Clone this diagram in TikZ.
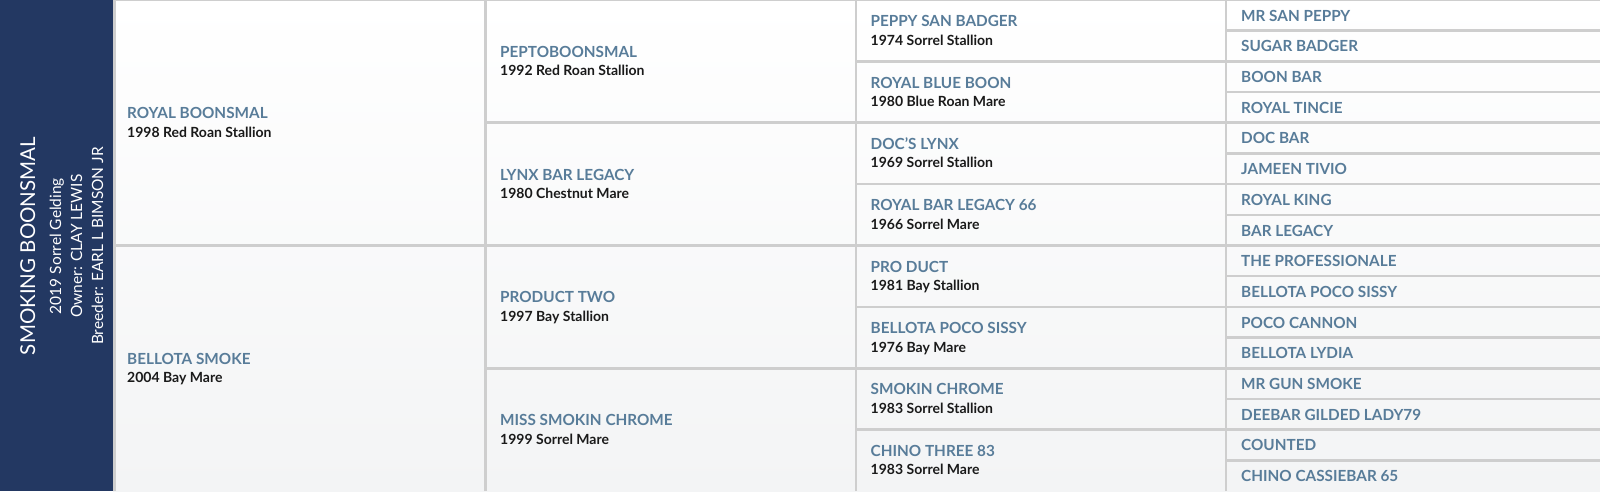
\documentclass[tikz,border=0pt]{standalone}
\usepackage{fontspec}
\setmainfont{Lato}
\usetikzlibrary{positioning}

\definecolor{barblue}{RGB}{35,56,98}
\definecolor{namecol}{RGB}{88,124,153}
\definecolor{infocol}{RGB}{26,26,26}
\definecolor{gridcol}{RGB}{206,206,206}
\definecolor{bottomcol}{RGB}{243,244,245}

\tikzset{
    horse/.style={anchor=base west, inner sep=0pt, text=namecol, font=\bfseries\fontsize{15.3}{15.3}\selectfont},
    info/.style={anchor=base west, inner sep=0pt, text=infocol, font=\bfseries\fontsize{14}{14}\selectfont},
    bartext/.style={anchor=base, rotate=90, inner sep=0pt, text=white},
    gridline/.style={draw=gridcol, line width=2.5pt}
}

\begin{document}
\begin{tikzpicture}[x=1pt,y=1pt]
            \useasboundingbox (0,0) rectangle (1600,491);

            % background and side bar
            \shade [top color=white, bottom color=bottomcol] (113,0) rectangle (1600,491);
            \fill [barblue] (0,0) rectangle (113,491);

            % grid
            \begin{scope}[gridline]
                \draw (114.5,491) -- (1600,491);
                \foreach \x in {114.5,485.5,856,1226}
                    \draw (\x,0) -- (\x,491);
                \draw (114.5,245.5) -- (485.5,245.5);
                \foreach \i in {1,2,3}
                    \draw (485.5,\i*122.75) -- (856,\i*122.75);
                \foreach \i in {1,...,7}
                    \draw (856,\i*61.375) -- (1226,\i*61.375);
                \foreach \i in {1,...,15}
                    \draw (1226,\i*30.6875) -- (1600,\i*30.6875);
            \end{scope}

            % subject
            \node [bartext, font=\fontsize{20.5}{20.5}\selectfont] (horse) at (35,245) {SMOKING BOONSMAL};
            \node [bartext, font=\fontsize{15.5}{15.5}\selectfont] (horseinfo) at (61,245) {2019 Sorrel Gelding};
            \node [bartext, font=\fontsize{15.5}{15.5}\selectfont] (owner) at (82,245) {Owner: CLAY LEWIS};
            \node [bartext, font=\fontsize{15.5}{15.5}\selectfont] (breeder) at (103,245) {Breeder: EARL L BIMSON JR};

            % parents
            \begin{scope}[every node/.style={horse}]
                \node (S) at (127,372.3) {ROYAL BOONSMAL};
                \node (D) at (127,126.8) {BELLOTA SMOKE};
            \end{scope}

            % grandparents
            \begin{scope}[every node/.style={horse}]
                \node (SS) at (500,433.6) {PEPTOBOONSMAL};
                \node (SD) at (500,310.9) {LYNX BAR LEGACY};
                \node (DS) at (500,188.1) {PRODUCT TWO};
                \node (DD) at (500,65.4) {MISS SMOKIN CHROME};
            \end{scope}

            % great grandparents
            \begin{scope}[every node/.style={horse}]
                \node (SSS) at (870.5,464.3) {PEPPY SAN BADGER};
                \node (SSD) at (870.5,402.9) {ROYAL BLUE BOON};
                \node (SDS) at (870.5,341.6) {DOC'S LYNX};
                \node (SDD) at (870.5,280.2) {ROYAL BAR LEGACY 66};
                \node (DSS) at (870.5,218.8) {PRO DUCT};
                \node (DSD) at (870.5,157.4) {BELLOTA POCO SISSY};
                \node (DDS) at (870.5,96.1) {SMOKIN CHROME};
                \node (DDD) at (870.5,34.7) {CHINO THREE 83};
            \end{scope}

            % year, colour and sex under each name
            \begin{scope}[every node/.style={info}]
                \foreach \n/\t in {S/1998 Red Roan Stallion, D/2004 Bay Mare,
                        SS/1992 Red Roan Stallion, SD/1980 Chestnut Mare,
                        DS/1997 Bay Stallion, DD/1999 Sorrel Mare,
                        SSS/1974 Sorrel Stallion, SSD/1980 Blue Roan Mare,
                        SDS/1969 Sorrel Stallion, SDD/1966 Sorrel Mare,
                        DSS/1981 Bay Stallion, DSD/1976 Bay Mare,
                        DDS/1983 Sorrel Stallion, DDD/1983 Sorrel Mare}
                    \node (\n info) at ([yshift=-18.5pt]\n.base west) {\t};
            \end{scope}

            % fourth generation
            \begin{scope}[every node/.style={horse}]
                \node (SSSS) at (1241,469.9) {MR SAN PEPPY};
                \node (SSSD) at (1241,439.2) {SUGAR BADGER};
                \node (SSDS) at (1241,408.5) {BOON BAR};
                \node (SSDD) at (1241,377.8) {ROYAL TINCIE};
                \node (SDSS) at (1241,347.1) {DOC BAR};
                \node (SDSD) at (1241,316.4) {JAMEEN TIVIO};
                \node (SDDS) at (1241,285.7) {ROYAL KING};
                \node (SDDD) at (1241,255.0) {BAR LEGACY};
                \node (DSSS) at (1241,224.4) {THE PROFESSIONALE};
                \node (DSSD) at (1241,193.7) {BELLOTA POCO SISSY};
                \node (DSDS) at (1241,163.0) {POCO CANNON};
                \node (DSDD) at (1241,132.3) {BELLOTA LYDIA};
                \node (DDSS) at (1241,101.6) {MR GUN SMOKE};
                \node (DDSD) at (1241,70.9) {DEEBAR GILDED LADY79};
                \node (DDDS) at (1241,40.2) {COUNTED};
                \node (DDDD) at (1241,9.5) {CHINO CASSIEBAR 65};
            \end{scope}
            \end{tikzpicture}
\end{document}
